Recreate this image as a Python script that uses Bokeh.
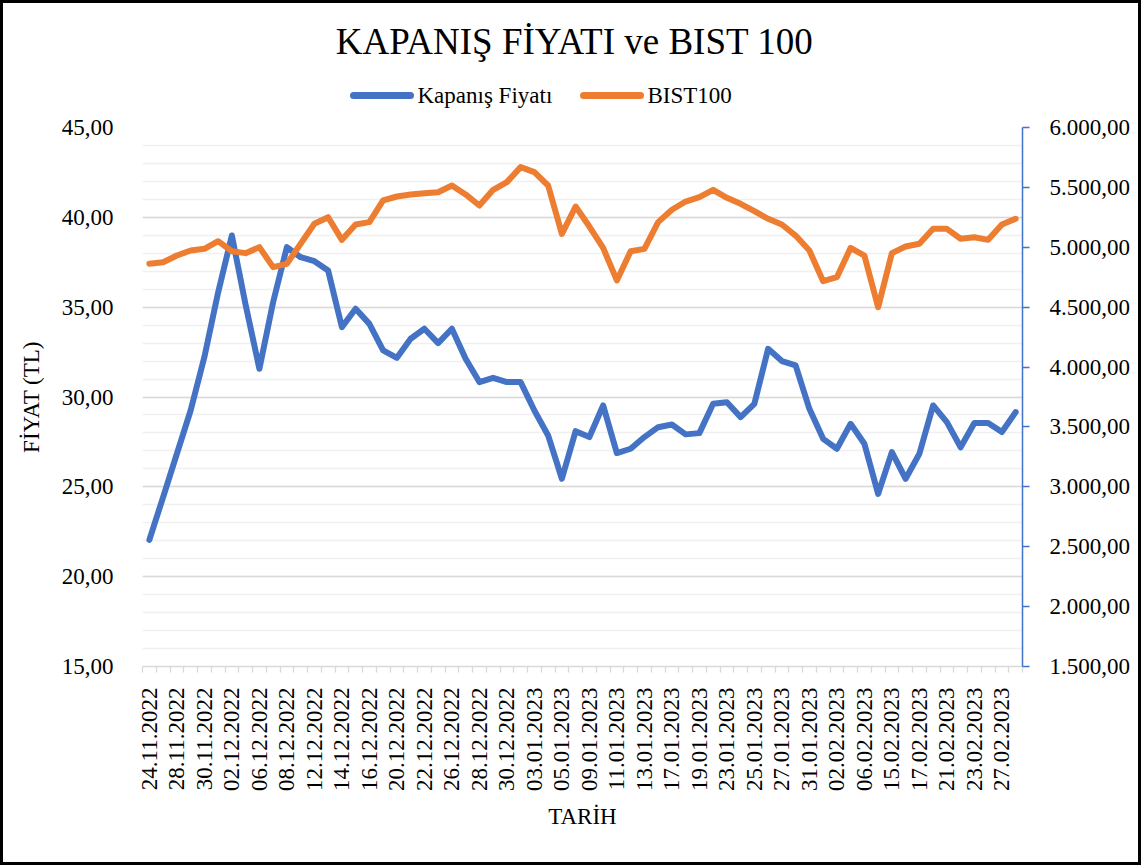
import math
from bokeh.plotting import figure
from bokeh.layouts import column
from bokeh.models import (Range1d, LinearAxis, FixedTicker, ColumnDataSource, Label)
from bokeh.embed import file_html
from bokeh.resources import INLINE

# ---------------- data ----------------
dates = ["24.11.2022", "25.11.2022", "28.11.2022", "29.11.2022", "30.11.2022",
         "01.12.2022", "02.12.2022", "05.12.2022", "06.12.2022", "07.12.2022",
         "08.12.2022", "09.12.2022", "12.12.2022", "13.12.2022", "14.12.2022",
         "15.12.2022", "16.12.2022", "19.12.2022", "20.12.2022", "21.12.2022",
         "22.12.2022", "23.12.2022", "26.12.2022", "27.12.2022", "28.12.2022",
         "29.12.2022", "30.12.2022", "02.01.2023", "03.01.2023", "04.01.2023",
         "05.01.2023", "06.01.2023", "09.01.2023", "10.01.2023", "11.01.2023",
         "12.01.2023", "13.01.2023", "16.01.2023", "17.01.2023", "18.01.2023",
         "19.01.2023", "20.01.2023", "23.01.2023", "24.01.2023", "25.01.2023",
         "26.01.2023", "27.01.2023", "30.01.2023", "31.01.2023", "01.02.2023",
         "02.02.2023", "03.02.2023", "06.02.2023", "07.02.2023", "15.02.2023",
         "16.02.2023", "17.02.2023", "20.02.2023", "21.02.2023", "22.02.2023",
         "23.02.2023", "24.02.2023", "27.02.2023", "28.02.2023"]

kapanis = [22.05, 24.43, 26.84, 29.25, 32.22, 35.82, 38.99, 35.13, 31.57, 35.28,
           38.34, 37.78, 37.56, 37.04, 33.89, 34.91, 34.07, 32.59, 32.18, 33.24,
           33.80, 33.00, 33.80, 32.13, 30.83, 31.07, 30.83, 30.83, 29.25, 27.86,
           25.45, 28.10, 27.77, 29.53, 26.88, 27.12, 27.77, 28.32, 28.47, 27.92,
           27.99, 29.62, 29.71, 28.88, 29.62, 32.68, 32.00, 31.76, 29.34, 27.67,
           27.12, 28.51, 27.40, 24.61, 26.93, 25.45, 26.84, 29.53, 28.60, 27.20,
           28.55, 28.55, 28.05, 29.16]

bist100 = [4862, 4875, 4931, 4973, 4987, 5051, 4967, 4951, 5001, 4834,
           4862, 5029, 5196, 5251, 5062, 5190, 5210, 5391, 5424, 5441,
           5451, 5460, 5516, 5441, 5349, 5480, 5544, 5669, 5627, 5516,
           5112, 5340, 5173, 4995, 4723, 4967, 4987, 5210, 5313, 5382,
           5418, 5480, 5413, 5363, 5301, 5238, 5190, 5098, 4973, 4717,
           4750, 4995, 4931, 4500, 4951, 5006, 5029, 5154, 5154, 5071,
           5084, 5062, 5190, 5238]

left_ticks = [15, 20, 25, 30, 35, 40, 45]
right_ticks = [1500, 2000, 2500, 3000, 3500, 4000, 4500, 5000, 5500, 6000]

title_text = "KAPANIŞ FİYATI ve BIST 100"
series_names = ["Kapanış Fiyatı", "BIST100"]


def tr_fmt(v):
    s = f"{v:,.2f}"
    return s.replace(",", "X").replace(".", ",").replace("X", ".")


FONT = "Liberation Serif"
BLUE = "#4472C4"
ORANGE = "#ED7D31"
LW = 6
W = 1141
FL, FR = 142, 1022          # frame left / right in page pixels
HEAD_H = 110

# ---------------- header (title + legend), pixel coordinates ----------------
head = figure(width=W, height=HEAD_H, output_backend="svg", toolbar_location=None,
              x_axis_type=None, y_axis_type=None,
              min_border_left=FL, min_border_right=W - FR,
              min_border_top=0, min_border_bottom=0,
              x_range=Range1d(FL, FR), y_range=Range1d(HEAD_H, 0),
              background_fill_alpha=0, border_fill_alpha=0,
              outline_line_color=None,
              styles={"box-shadow": "inset 3px 3px 0 0 black, inset -3px 0 0 0 black"})
head.grid.visible = False

head.add_layout(Label(x=574, y=41, text=title_text, text_align="center",
                      text_baseline="middle", text_font=FONT,
                      text_font_size="37px", text_color="black"))

# legend: swatch + label for each series
sw_x0 = [353, 583]
sw_x1 = [410, 640]
lab_x = [417, 647]
sw_y = 95
head.segment(x0=sw_x0, y0=[sw_y, sw_y], x1=sw_x1, y1=[sw_y, sw_y],
             line_color=[BLUE, ORANGE], line_width=LW + 1, line_cap="round")
for lx, name in zip(lab_x, series_names):
    head.add_layout(Label(x=lx, y=sw_y, text=name, text_align="left",
                          text_baseline="middle", text_font=FONT,
                          text_font_size="23px", text_color="black"))

# ---------------- main chart ----------------
n = len(dates)
x = list(range(n))
src = ColumnDataSource(dict(x=x, kapanis=kapanis, bist=bist100, date=dates))

p = figure(width=W, height=865 - HEAD_H, output_backend="svg", toolbar_location=None,
           x_range=Range1d(-0.5, n - 0.5), y_range=Range1d(15, 45),
           min_border_left=FL, min_border_right=W - FR,
           min_border_top=127 - HEAD_H, min_border_bottom=199,
           background_fill_alpha=0, border_fill_alpha=0,
           outline_line_color=None,
           styles={"box-shadow": "inset 3px 0 0 0 black, inset -3px -3px 0 0 black"})
p.extra_y_ranges = {"bist": Range1d(1500, 6000)}

# grid
p.xgrid.visible = False
yt = FixedTicker(ticks=left_ticks, minor_ticks=list(range(15, 46)))
p.ygrid.ticker = yt
p.ygrid.grid_line_color = "#d9d9d9"
p.ygrid.grid_line_width = 1.3
p.ygrid.minor_grid_line_color = "#f0f0f0"
p.ygrid.minor_grid_line_width = 1.3

# left axis
ya = p.yaxis[0]
ya.ticker = yt
ya.major_label_overrides = {v: tr_fmt(v) for v in left_ticks}
ya.axis_line_color = None
ya.major_tick_line_color = None
ya.minor_tick_line_color = None
ya.major_tick_out = 0
ya.major_tick_in = 0
ya.minor_tick_out = 0
ya.major_label_standoff = 29
ya.major_label_text_font = FONT
ya.major_label_text_font_size = "23px"
ya.major_label_text_color = "black"
ya.axis_label = "FİYAT (TL)"
ya.axis_label_text_font = FONT
ya.axis_label_text_font_size = "23px"
ya.axis_label_text_font_style = "normal"
ya.axis_label_text_color = "black"
ya.axis_label_standoff = 15

# bottom axis
xa = p.xaxis[0]
xa.ticker = FixedTicker(ticks=list(range(0, n, 2)),
                        minor_ticks=[i - 0.5 for i in range(n + 1)])
xa.major_label_overrides = {i: dates[i] for i in range(0, n, 2)}
xa.major_label_orientation = math.pi / 2
xa.axis_line_color = "#d9d9d9"
xa.axis_line_width = 1.5
xa.major_tick_line_color = None
xa.major_tick_out = 0
xa.major_tick_in = 0
xa.minor_tick_line_color = "#d9d9d9"
xa.minor_tick_line_width = 1.3
xa.minor_tick_out = 6
xa.minor_tick_in = 0
xa.major_label_standoff = 15
xa.major_label_text_font = FONT
xa.major_label_text_font_size = "23px"
xa.major_label_text_color = "black"
xa.axis_label = "TARİH"
xa.axis_label_text_font = FONT
xa.axis_label_text_font_size = "23px"
xa.axis_label_text_font_style = "normal"
xa.axis_label_text_color = "black"
xa.axis_label_standoff = 10

# right axis
ra = LinearAxis(y_range_name="bist", ticker=FixedTicker(ticks=right_ticks, minor_ticks=[]))
ra.major_label_overrides = {v: tr_fmt(v) for v in right_ticks}
ra.axis_line_color = BLUE
ra.axis_line_width = 1.5
ra.major_tick_line_color = BLUE
ra.major_tick_line_width = 1.5
ra.major_tick_out = 7
ra.major_tick_in = 0
ra.minor_tick_line_color = None
ra.major_label_standoff = 20
ra.major_label_text_font = FONT
ra.major_label_text_font_size = "23px"
ra.major_label_text_color = "black"
p.add_layout(ra, "right")

# series
p.line("x", "kapanis", source=src, line_color=BLUE, line_width=LW,
       line_join="round", line_cap="round")
p.line("x", "bist", source=src, y_range_name="bist", line_color=ORANGE,
       line_width=LW, line_join="round", line_cap="round")

layout = column(head, p, spacing=0, styles={"background-color": "white"})

open("out.html", "w").write(file_html(layout, INLINE))
